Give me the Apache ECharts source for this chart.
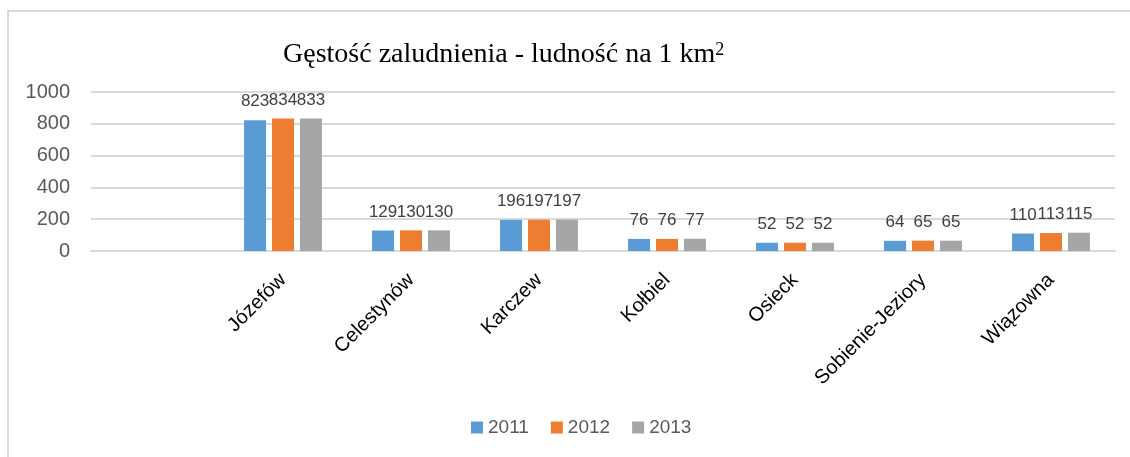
<!DOCTYPE html>
<html lang="pl">
<head>
<meta charset="utf-8">
<title>Gęstość zaludnienia</title>
<script src="https://cdn.jsdelivr.net/npm/echarts@6/dist/echarts.min.js"></script>
<style>
  html, body { margin: 0; padding: 0; background: #fff; }
  #chart { width: 1130px; height: 457px; }
</style>
</head>
<body>
<div id="chart"></div>
<script>
// dane (pierwsza kategoria pusta, jak w oryginale)
var gminy = ['', 'Józefów', 'Celestynów', 'Karczew', 'Kołbiel', 'Osieck', 'Sobienie-Jeziory', 'Wiązowna'];
var lata = ['2011', '2012', '2013'];
var dane2011 = [null, 823, 129, 196, 76, 52, 64, 110];
var dane2012 = [null, 834, 130, 197, 76, 52, 65, 113];
var dane2013 = [null, 833, 130, 197, 77, 52, 65, 115];
var yTicks = [0, 200, 400, 600, 800, 1000];

var kolory = ['#5b9bd5', '#ed7d31', '#a5a5a5'];
var font = 'Liberation Sans';

function seria(name, data, i) {
  return {
    name: name,
    type: 'bar',
    data: data,
    barWidth: 22,
    barGap: '27%',
    itemStyle: { color: kolory[i] },
    label: {
      show: true,
      position: 'top',
      distance: 10,
      fontFamily: font,
      fontSize: 17,
      color: '#404040'
    }
  };
}

var chart = echarts.init(document.getElementById('chart'));
chart.setOption({
  animation: false,
  backgroundColor: '#fff',
  graphic: [{
    type: 'rect',
    shape: { x: 8, y: 11, width: 1200, height: 500 },
    style: { fill: 'none', stroke: '#d9d9d9', lineWidth: 2 },
    z: -1
  }],
  title: {
    text: '{a|Gęstość zaludnienia - ludność na 1 km}{b|2}',
    left: 278,
    top: 36,
    textStyle: {
      rich: {
        a: { fontFamily: 'Liberation Serif', fontSize: 28, fontWeight: 'normal', color: '#000' },
        b: { fontFamily: 'Liberation Serif', fontSize: 18, fontWeight: 'normal', color: '#000', verticalAlign: 'top' }
      }
    }
  },
  legend: {
    data: lata,
    bottom: 15,
    left: 466,
    itemWidth: 12,
    itemHeight: 12,
    itemGap: 22,
    icon: 'rect',
    textStyle: { fontFamily: font, fontSize: 19, color: '#595959' }
  },
  grid: { left: 91, right: 15, top: 92, bottom: 206 },
  xAxis: {
    type: 'category',
    data: gminy,
    axisLine: { lineStyle: { color: '#d9d9d9', width: 2 } },
    axisTick: { show: false },
    axisLabel: {
      interval: 0,
      rotate: 45,
      margin: 26,
      fontFamily: font,
      fontSize: 20,
      color: '#000'
    }
  },
  yAxis: {
    type: 'value',
    min: yTicks[0],
    max: yTicks[yTicks.length - 1],
    interval: 200,
    axisLine: { show: false },
    axisTick: { show: false },
    splitLine: { lineStyle: { color: '#d9d9d9', width: 2 } },
    axisLabel: {
      margin: 21,
      fontFamily: font,
      fontSize: 20,
      color: '#595959',
      formatter: function (v) { return String(v); }
    }
  },
  series: [
    seria(lata[0], dane2011, 0),
    seria(lata[1], dane2012, 1),
    seria(lata[2], dane2013, 2)
  ]
});
</script>
</body>
</html>
